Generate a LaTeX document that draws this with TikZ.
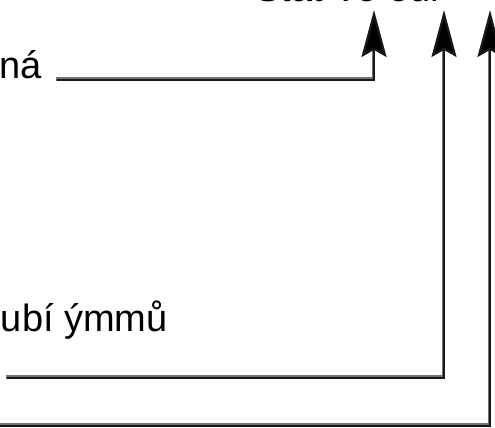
\documentclass[tikz,border=0pt]{standalone}
\usepackage{fontspec}
\setmainfont{Liberation Sans}
\usetikzlibrary{arrows.meta}
\begin{document}
\begin{tikzpicture}[x=1pt,y=1pt,
  lbl/.style={inner sep=0pt,font=\fontsize{38}{40}\selectfont},
  wireshade/.style={draw=black!55,line width=3.6pt,line cap=butt,line join=miter},
  wire/.style={draw=black!90,line width=2.2pt,line join=miter,
    -{Stealth[length=47pt,width=25pt,inset=7pt,fill=black]}}]
\useasboundingbox (0,0) rectangle (495,428);
\clip (0,0) rectangle (495,428);

% heading, mostly above the visible area
\node[lbl,anchor=base west] (head) at (255,426) {Stat Vo our};

% labels
\node[lbl,anchor=base east] (na) at (42,349) {ná};
\node[lbl,anchor=base east] (ubi) at (168,96) {ubí ýmmů};

% connector points
\coordinate (s1) at (57,348);
\coordinate (c1) at (374,348);
\coordinate (t1) at (374,418);
\coordinate (s2) at (7,50);
\coordinate (c2) at (444,50);
\coordinate (t2) at (444,418);
\coordinate (s3) at (-2,2);
\coordinate (c3) at (490,2);
\coordinate (t3) at (490,418);

% light edge along each connector, ending under the arrow head
\foreach \s/\c/\t in {s1/c1/t1,s2/c2/t2,s3/c3/t3}
  \draw[wireshade] ([shift={(-0.7pt,0.7pt)}]\s) -- ([shift={(-0.7pt,0.7pt)}]\c)
    -- ([shift={(-0.7pt,-40pt)}]\t);

% connectors
\draw[wire] (s1) -- (c1) -- (t1);
\draw[wire] (s2) -- (c2) -- (t2);
\draw[wire] (s3) -- (c3) -- (t3);
\end{tikzpicture}
\end{document}
